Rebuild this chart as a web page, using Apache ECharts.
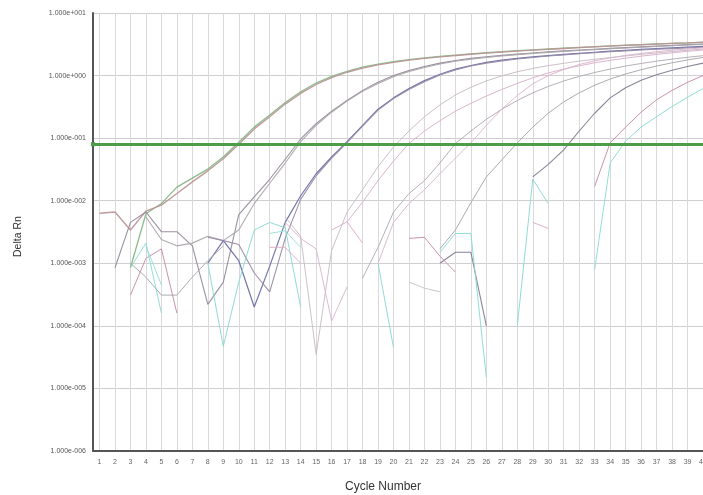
<!DOCTYPE html>
<html>
<head>
<meta charset="utf-8">
<script src="https://cdn.jsdelivr.net/npm/echarts@6/dist/echarts.min.js"></script>
<style>
html,body{margin:0;padding:0;background:#fff;}
#chart{width:703px;height:495px;}
</style>
</head>
<body>
<div id="chart"></div>
<script>
// Cycle numbers (x categories / tick labels)
var cycles = [1,2,3,4,5,6,7,8,9,10,11,12,13,14,15,16,17,18,19,20,21,22,23,24,25,26,27,28,29,30,31,32,33,34,35,36,37,38,39,40];
// Y tick values (decades)
var yTicks = [1e-6,1e-5,1e-4,1e-3,1e-2,1e-1,1e0,1e1];
var threshold = 0.084;
var n = null;

// Delta Rn per cycle for each well (null = not drawn / non-positive)
var wellA1 = [n,n,0.00085,0.0062,0.009,0.0165,0.023,0.032,0.05,0.086,0.15,0.235,0.37,0.55,0.76,0.97,1.17,1.36,1.52,1.67,1.8,1.92,2.03,2.13,2.23,2.32,2.41,2.5,2.58,2.66,2.74,2.82,2.9,2.98,3.06,3.13,3.2,3.27,3.33,3.4];
var wellA2 = [0.0063,0.0066,0.0034,0.0068,0.0085,0.013,0.02,0.03,0.047,0.08,0.14,0.22,0.35,0.52,0.72,0.93,1.13,1.32,1.48,1.63,1.76,1.88,1.99,2.09,2.19,2.28,2.37,2.46,2.55,2.63,2.71,2.79,2.87,2.95,3.03,3.11,3.19,3.26,3.33,3.42];
var wellB1 = [n,0.00085,0.0045,0.0066,0.0032,0.0032,0.0019,0.00022,0.0005,0.006,0.0115,0.022,0.046,0.097,0.17,0.27,0.4,0.58,0.78,1.0,1.2,1.4,1.58,1.74,1.88,2.0,2.1,2.2,2.3,2.4,2.48,2.56,2.64,2.72,2.8,2.88,2.96,3.04,3.12,3.2];
var wellB2 = [n,n,n,0.0055,0.0024,0.0019,0.0021,0.0027,0.0023,0.0034,0.009,0.019,0.04,0.088,0.16,0.26,0.39,0.56,0.75,0.96,1.16,1.35,1.53,1.69,1.83,1.95,2.06,2.16,2.26,2.35,2.44,2.52,2.6,2.68,2.76,2.84,2.92,3.0,3.08,3.15];
var wellC1 = [n,n,n,n,n,n,n,0.001,0.0023,0.0011,0.0002,0.0009,0.0045,0.012,0.027,0.05,0.088,0.16,0.29,0.44,0.62,0.83,1.05,1.27,1.45,1.62,1.76,1.88,1.99,2.09,2.18,2.27,2.36,2.45,2.54,2.62,2.7,2.78,2.85,2.92];
var wellC2 = [n,n,n,n,n,n,n,0.0026,0.0023,0.002,0.0007,0.00035,0.0025,0.0105,0.025,0.048,0.085,0.155,0.28,0.43,0.6,0.8,1.02,1.23,1.42,1.58,1.72,1.84,1.95,2.05,2.14,2.23,2.32,2.4,2.48,2.56,2.63,2.7,2.77,2.84];
var wellD1 = [n,n,n,n,n,n,n,n,n,n,n,n,0.0055,0.0027,0.000035,0.0016,0.0066,0.015,0.035,0.072,0.13,0.22,0.34,0.49,0.65,0.82,0.99,1.15,1.3,1.44,1.57,1.7,1.82,1.94,2.06,2.18,2.3,2.42,2.54,2.65];
var wellD2 = [n,n,n,n,n,n,n,n,n,n,n,n,n,n,n,0.0034,0.0046,0.0095,0.021,0.043,0.082,0.13,0.19,0.27,0.36,0.47,0.6,0.75,0.92,1.1,1.27,1.43,1.6,1.75,1.9,2.04,2.18,2.31,2.44,2.56];
var wellE1 = [n,n,n,n,n,n,n,n,n,n,n,n,n,n,n,n,n,0.00058,0.0018,0.0066,0.013,0.021,0.04,0.082,0.13,0.2,0.29,0.4,0.53,0.67,0.82,0.97,1.12,1.27,1.42,1.56,1.7,1.83,1.96,2.08];
var wellE2 = [n,n,n,n,n,n,n,n,n,n,n,n,0.0045,0.0025,0.0017,0.00012,0.00042,n,0.001,0.0045,0.009,0.015,0.027,0.048,0.084,0.16,0.29,0.48,0.74,1.0,1.25,1.5,1.72,1.92,2.1,2.26,2.41,2.54,2.66,2.77];
var wellF  = [n,n,0.001,0.0006,0.00031,0.00031,0.0006,0.0011,0.0019,n,n,n,n,n,n,n,n,n,n,n,n,n,0.0017,0.0034,0.0093,0.024,0.045,0.084,0.15,0.25,0.38,0.53,0.7,0.88,1.06,1.24,1.42,1.6,1.78,1.95];
var wellG  = [n,n,n,n,n,n,n,n,n,n,n,n,n,n,n,n,n,n,n,n,n,n,0.001,0.0015,0.0015,0.0001,n,n,0.024,0.038,0.065,0.13,0.25,0.44,0.64,0.84,1.03,1.22,1.4,1.58];
var wellH  = [n,n,0.00031,0.0012,0.0017,0.00016,n,n,n,n,n,n,n,n,n,n,n,n,n,n,0.0025,0.0026,0.0013,0.00072,n,n,n,n,n,n,n,n,0.017,0.084,0.15,0.26,0.41,0.58,0.78,1.0];
var wellI  = [n,n,0.00085,0.0021,0.00016,n,n,n,n,n,n,n,n,n,n,n,n,n,n,n,n,n,0.0015,0.003,0.003,0.000015,n,n,n,n,n,n,0.0008,0.04,0.09,0.15,0.22,0.32,0.45,0.62];
var ntc1   = [n,n,n,n,n,n,n,0.001,0.000047,0.0005,0.0034,0.0045,0.0037,0.0002,n,n,n,n,0.001,0.000045,n,n,n,n,n,n,n,0.0001,0.022,0.009,n,n,n,n,n,n,n,n,n,n];
var ntc2   = [n,n,n,n,n,n,n,n,n,n,n,0.0018,0.0018,0.001,n,n,0.0046,0.0021,n,n,n,n,n,n,n,n,n,n,0.0045,0.0036,n,n,n,n,n,n,n,n,n,n];
var ntc3   = [n,n,n,n,n,n,n,n,n,n,n,n,n,n,n,n,n,n,n,n,0.0005,0.0004,0.00035,n,n,n,n,n,n,n,n,n,n,n,n,n,n,n,n,n];
var ntc4   = [n,n,n,0.0019,0.00045,n,n,n,n,n,n,0.003,0.0033,0.0018,n,n,n,n,n,n,n,n,n,n,n,n,n,n,n,n,n,n,n,n,n,n,n,n,n,n];

var wells = [
  {name:'A1', data:wellA1, color:'#86b886', w:1.3},
  {name:'A2', data:wellA2, color:'#bc9496', w:1.3},
  {name:'B1', data:wellB1, color:'#968a9c', w:1.1},
  {name:'B2', data:wellB2, color:'#aaa6aa', w:1.1},
  {name:'C1', data:wellC1, color:'#6d6ea6', w:1.2},
  {name:'C2', data:wellC2, color:'#9a8aa6', w:1.1},
  {name:'D1', data:wellD1, color:'#c9bdc5', w:1},
  {name:'D2', data:wellD2, color:'#d9b0ca', w:1},
  {name:'E1', data:wellE1, color:'#b2abb4', w:1},
  {name:'E2', data:wellE2, color:'#dab6ce', w:1},
  {name:'F',  data:wellF,  color:'#a8a6aa', w:1},
  {name:'G',  data:wellG,  color:'#857c94', w:1.1},
  {name:'H',  data:wellH,  color:'#c98aaa', w:1},
  {name:'I',  data:wellI,  color:'#8adcd4', w:1},
  {name:'N1', data:ntc1,   color:'#88dad2', w:1},
  {name:'N2', data:ntc2,   color:'#deacca', w:1},
  {name:'N3', data:ntc3,   color:'#c6c4c8', w:1},
  {name:'N4', data:ntc4,   color:'#9adfd8', w:1}
];

function fmtExp(v){
  var e = Math.round(Math.log10(v));
  var s = e < 0 ? '-' : '+';
  var d = String(Math.abs(e));
  while (d.length < 3) d = '0' + d;
  return '1.000e' + s + d;
}

var series = wells.map(function(wl, idx){
  var s = {
    type:'line',
    name: wl.name,
    data: cycles.map(function(c,i){ return [c, wl.data[i]]; }),
    showSymbol:false,
    symbol:'none',
    connectNulls:false,
    silent:true,
    lineStyle:{color: wl.color, width: wl.w, opacity:0.95},
    z: 3
  };
  if (idx === 0) {
    s.markLine = {
      silent:true,
      symbol:['rect','none'],
      symbolSize:4,
      label:{show:false},
      lineStyle:{color:'#4c9c48', width:3, type:'solid', opacity:1},
      data:[{yAxis: threshold}],
      z: 5
    };
  }
  return s;
});

var chart = echarts.init(document.getElementById('chart'), null, {renderer:'canvas'});
chart.setOption({
  animation:false,
  backgroundColor:'#ffffff',
  grid:{left:93, top:13, right:0, height:438, containLabel:false, outerBoundsMode:'none'},
  xAxis:{
    type:'value',
    min:0.58,
    max:40,
    axisLine:{show:true, onZero:false, lineStyle:{color:'#555555', width:2}},
    axisTick:{show:false, customValues: cycles},
    axisLabel:{customValues: cycles, fontSize:7, color:'#666666', margin:8, fontFamily:'Liberation Sans, Arial, sans-serif'},
    splitLine:{show:true, lineStyle:{color:'#d9d9d9', width:1}}
  },
  yAxis:{
    type:'log',
    logBase:10,
    min:1e-6,
    max:10,
    splitNumber:7,
    axisLine:{show:true, lineStyle:{color:'#555555', width:2}},
    axisTick:{show:false},
    axisLabel:{formatter:fmtExp, fontSize:7, color:'#555555', margin:7, fontFamily:'Liberation Sans, Arial, sans-serif'},
    splitLine:{show:true, lineStyle:{color:'#cfcfcf', width:1}}
  },
  graphic:[
    {type:'text', left:345, top:481, style:{text:'Cycle Number', fill:'#333333', font:'12px "Liberation Sans", Arial, sans-serif'}},
    {type:'text', x:13, y:257, rotation:Math.PI/2, style:{text:'Delta Rn', fill:'#333333', font:'10.5px "Liberation Sans", Arial, sans-serif'}}
  ],
  series: series
});
</script>
</body>
</html>
